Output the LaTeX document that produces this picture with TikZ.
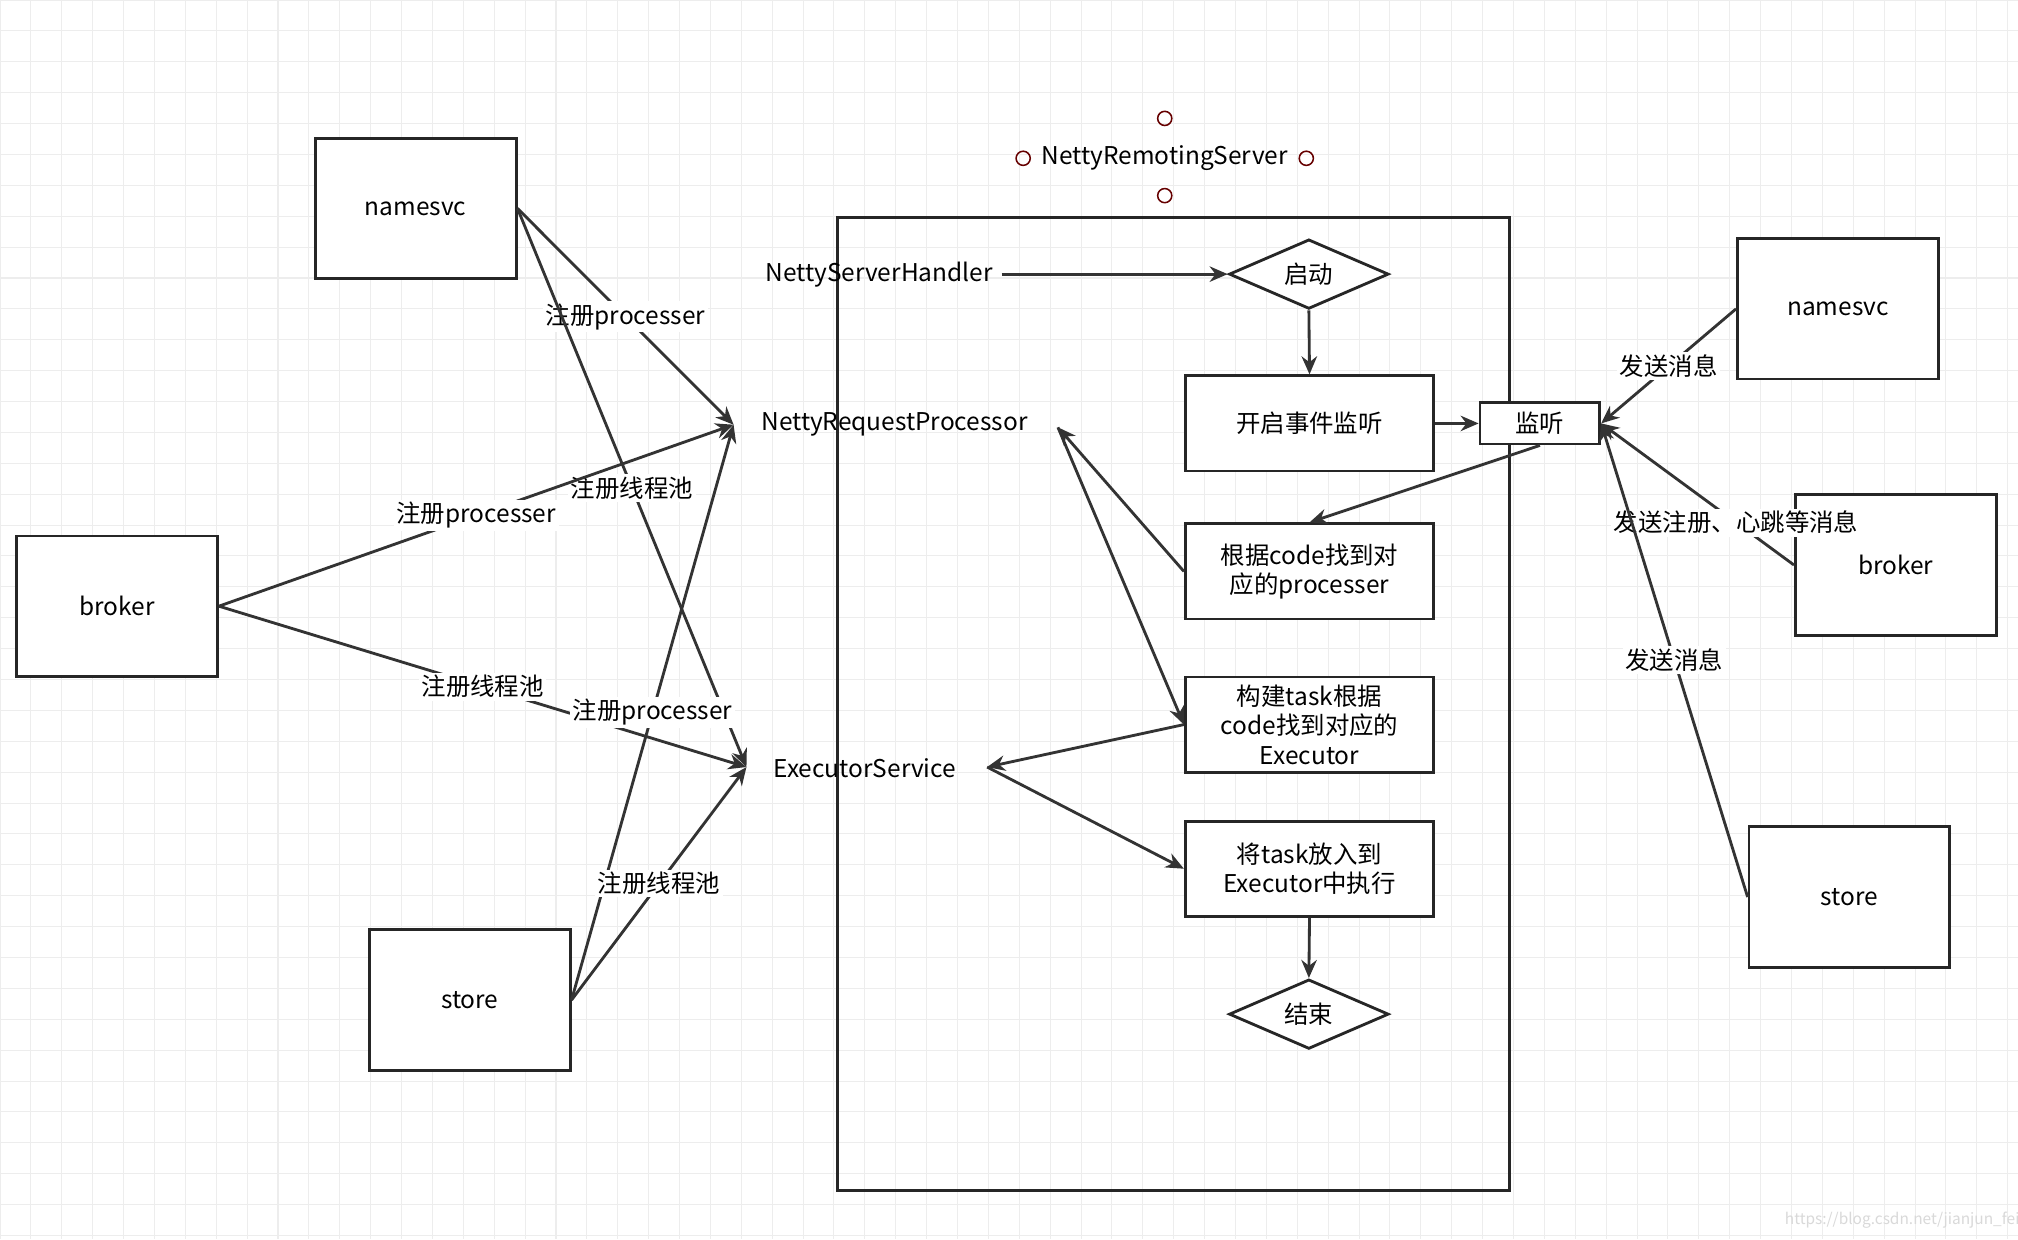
\documentclass[tikz,border=0pt]{standalone}
\usepackage{fontspec}
\setmainfont{Noto Sans CJK SC}
\usetikzlibrary{shapes.geometric,arrows.meta}
\begin{document}
\begin{tikzpicture}[x=0.5pt,y=-0.5pt,
  font=\fontsize{9.5}{11.5}\selectfont,
  box/.style={draw=black!85,line width=1.1pt,fill=white,inner sep=0pt,align=center},
  dia/.style={diamond,draw=black!85,line width=1.1pt,fill=white,aspect=2.3,minimum width=62pt,minimum height=27pt,inner sep=0pt},
  con/.style={draw=black!80,line width=1.1pt,-{Stealth[length=7pt,width=6pt]}},
  lbl/.style={fill=white,inner sep=1pt},
  dot/.style={circle,draw=red!40!black,line width=0.6pt,minimum size=5.5pt,inner sep=0pt}]
\useasboundingbox (0,0) rectangle (1568,963);
\fill[white] (0,0) rectangle (1568,963);
\foreach \x in {0,24,...,1568} \draw[black!7,line width=0.4pt] (\x,0) -- (\x,963);
\foreach \y in {0,24,...,963} \draw[black!7,line width=0.4pt] (0,\y) -- (1568,\y);
% left boxes
\node[box,minimum width=78pt,minimum height=54.5pt] (ln) at (323,162) {namesvc};
\node[box,minimum width=78pt,minimum height=54.5pt] (lb) at (91,471) {broker};
\node[box,minimum width=78pt,minimum height=54.5pt] (ls) at (365,777) {store};
% server frame
\draw[line width=1.1pt,black!85] (651,169) rectangle (1173,925);
\node (nrs) at (905,123) {NettyRemotingServer};
\node[dot] (d1) at (905,92) {};
\node[dot] (d2) at (795,123) {};
\node[dot] (d3) at (1015,123) {};
\node[dot] (d4) at (905,152) {};
\node (nsh) at (683,213) {NettyServerHandler};
\node (nrp) at (695,330) {NettyRequestProcessor};
\node (es) at (672,597) {ExecutorService};
\coordinate (nrpL) at (570,330);
\coordinate (nrpR) at (822,332);
\coordinate (esL) at (580,596);
\coordinate (esR) at (767,596);
\node[dia] (start) at (1017,213) {启动};
\node[box,minimum width=96.5pt,minimum height=37pt] (listen) at (1017.5,329) {开启事件监听};
\node[box,minimum width=46.5pt,minimum height=16pt] (mon) at (1196.5,329) {监听};
\node[box,minimum width=96.5pt,minimum height=37pt] (find) at (1017.5,444) {根据code找到对\\应的processer};
\node[box,minimum width=96.5pt,minimum height=37pt] (build) at (1017.5,563) {构建task根据\\code找到对应的\\Executor};
\node[box,minimum width=96.5pt,minimum height=37pt] (put) at (1017.5,675) {将task放入到\\Executor中执行};
\node[dia] (end) at (1017,788) {结束};
\draw[con] (nsh.east) -- (start.west);
\draw[con] (start.south) -- (listen.north);
\draw[con] (listen.east) -- (mon.west);
\draw[con] (mon.south) -- (find.north);
\draw[con] (find.west) -- (nrpR);
\draw[con] (nrpR) -- (build.west);
\draw[con] (build.west) -- (esR);
\draw[con] (esR) -- (put.west);
\draw[con] (put.south) -- (end.north);
% right boxes
\node[box,minimum width=78pt,minimum height=54.5pt] (rn) at (1428,240) {namesvc};
\node[box,minimum width=78pt,minimum height=54.5pt] (rb) at (1473,439) {broker};
\node[box,minimum width=78pt,minimum height=54.5pt] (rs) at (1437,697) {store};
\draw[con] (rn.west) -- (mon.east) node[lbl,pos=0.5] {发送消息};
\draw[con] (rb.west) -- (mon.east) node[lbl,pos=0.3] {发送注册、心跳等消息};
\draw[con] (rs.west) -- (mon.east) node[lbl,pos=0.5] {发送消息};
% left connectors
\draw[con] (ln.east) -- (nrpL) node[lbl,pos=0.5] {注册processer};
\draw[con] (ln.east) -- (esL) node[lbl,pos=0.5] {注册线程池};
\draw[con] (lb.east) -- (nrpL) node[lbl,pos=0.5] {注册processer};
\draw[con] (lb.east) -- (esL) node[lbl,pos=0.5] {注册线程池};
\draw[con] (ls.east) -- (nrpL) node[lbl,pos=0.5] {注册processer};
\draw[con] (ls.east) -- (esL) node[lbl,pos=0.5] {注册线程池};
\node[text=black!15,font=\fontsize{6}{7}\selectfont] (wm) at (1478,948) {https://blog.csdn.net/jianjun\_fei};
\end{tikzpicture}
\end{document}
